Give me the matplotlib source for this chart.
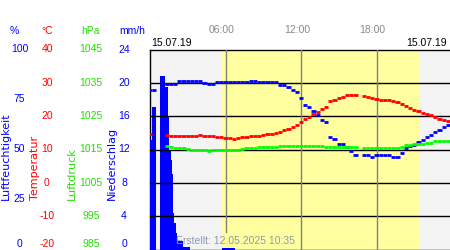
# weather chart: humidity, temperature, pressure and rain for one day
import numpy as np
import matplotlib.pyplot as plt
from matplotlib import transforms

nan = np.nan

# 20-minute readings, 00:00 .. 23:40
hours = np.arange(72) / 3

humidity = [79.8, 79.8, nan, 82.7, 82.7, 82.7, 82.7, 84.5, 84.5, 84.5, 84.5, 84.5,
            84.5, 83.5, 82.7, 82.7, 83.7, 83.7, 83.7, 83.7, 83.7, 83.7, 83.7, 83.7,
            84.5, 84.2, 83.7, 83.7, 83.7, 83.7, 83.7, 82.5, 82.5, 81.2, 80.0, 78.7,
            75.7, 72.5, 71.2, 69.2, 67.5, 65.0, 63.7, 56.5, 55.2, 52.7, 52.7, 51.2,
            49.5, 47.5, nan, 47.5, 47.5, 46.2, 47.5, 47.5, 47.5, 47.5, 46.2, 46.2,
            48.5, 50.7, 52.0, 52.5, 53.7, 55.0, 56.2, 57.5, 58.7, 60.0, 61.2, 62.5]

temperature = [14.6, nan, nan, nan, 14.3, 14.1, 14.1, 14.1, 14.1, 14.1, 14.1, 14.1,
               14.4, 14.1, 14.0, 14.0, 13.7, 13.7, 13.5, 13.4, 13.3, 13.6, 13.7, 13.7,
               14.0, 14.1, 14.2, 14.3, 14.6, 14.7, 15.0, 15.3, 15.8, 16.2, 16.8, 17.4,
               18.2, 19.1, 19.7, 20.6, 21.3, 22.2, 22.9, 24.7, 25.0, 25.6, 25.9, 26.4,
               26.4, 26.4, nan, 26.1, 25.9, 25.6, 25.3, 25.0, 25.0, 24.9, 24.6, 24.3,
               23.8, 23.2, 22.6, 22.0, 21.6, 21.0, 20.6, 20.3, 19.7, 19.2, 18.8, 18.6]

pressure = [nan, nan, nan, nan, 1016.0, 1015.7, 1015.4, 1015.4, 1015.4, 1015.1, 1014.8, 1014.8,
            1014.8, 1014.8, 1014.5, 1014.8, 1014.8, 1014.8, 1014.8, 1014.8, 1014.8, 1014.8, 1015.1, 1015.4,
            1015.4, 1015.4, 1015.9, 1015.9, 1015.9, 1015.9, 1015.9, 1016.2, 1016.2, 1016.2, 1016.2, 1016.2,
            1016.2, 1016.2, 1016.2, 1016.2, 1016.2, 1016.2, 1015.9, 1015.9, 1015.9, 1015.9, 1015.9, 1015.9,
            1015.9, 1015.9, nan, 1015.6, 1015.6, 1015.6, 1015.6, 1015.6, 1015.6, 1015.6, 1015.6, 1015.6,
            1015.9, 1016.4, 1016.4, 1016.8, 1016.8, 1016.8, 1017.1, 1017.1, 1017.6, 1017.6, 1017.7, 1017.7]

# rain in 5-minute bins (start minute, mm/h)
rain_min = [0, 5, 10, 15, 20, 25, 50, 55, 60, 65, 70, 75, 80, 85, 90, 95, 100, 105, 110,
            115, 120, 125, 130, 135, 140, 145, 150, 155, 160, 165, 170, 175, 180, 185,
            345, 350, 355, 360, 365, 370, 375, 380, 385, 390, 395, 400]
rain = [13.1, 13.1, 17.1, 17.1, 17.1, 17.1, 20.8, 20.8, 20.8, 20.8, 19.5, 19.5, 19.5,
        15.9, 11.9, 11.9, 10.7, 9.1, 4.4, 3.2, 3.2, 2.0, 1.0, 1.0, 1.0, 1.0, 1.0,
        0.3, 0.3, 0.3, 0.3, 0.3, 0.3, 0.3,
        0.2, 0.2, 0.2, 0.2, 0.2, 0.2, 0.2, 0.2, 0.2, 0.2, 0.2, 0.2]

sunrise, sunset = 5.64, 21.36
hum_ticks = [0, 25, 50, 75, 100]
temp_ticks = [-20, -10, 0, 10, 20, 30, 40]
pres_ticks = [985, 995, 1005, 1015, 1025, 1035, 1045]
rain_ticks = [0, 4, 8, 12, 16, 20, 24]

BLUE = '#0000ff'
RED = '#ff0000'
GREEN = '#00ff00'
GREEN_TXT = '#22e000'
GRAY = '#8a8a8a'

plt.rcParams['font.family'] = ['Liberation Sans', 'DejaVu Sans']
plt.rcParams['font.size'] = 7.5

fig = plt.figure(figsize=(4.5, 2.5), dpi=100)
W, H = 450, 250
ax = fig.add_axes([150 / W, 0.5 / H, 302 / W, 200 / H])
ax.set_xlim(0, 24)
ax.set_ylim(-20, 40)
ax.axvspan(0, sunrise, color='#f3f3f3', lw=0, zorder=0)
ax.axvspan(sunrise, sunset, color='#ffffa0', lw=0, zorder=0)
ax.axvspan(sunset, 24, color='#f3f3f3', lw=0, zorder=0)
for s in ['left', 'top', 'bottom']:
    ax.spines[s].set_linewidth(1)
ax.spines['right'].set_visible(False)
ax.set_xticks([])
ax.set_yticks([])

ax_r = ax.twinx()
ax_h = ax.twinx()
ax_p = ax.twinx()
ax_t = ax.twinx()
for a, lim in [(ax_r, (0, 24)), (ax_h, (0, 100)), (ax_p, (985, 1045)), (ax_t, (-20, 40))]:
    a.set_ylim(*lim)
    a.set_xlim(0, 24)
    a.set_yticks([])
    a.set_xticks([])
    for s in a.spines.values():
        s.set_visible(False)

# rain bars, then grid on top of them
ax_r.bar(np.array(rain_min) / 60, rain, width=5 / 60, align='edge', color=BLUE, lw=0, zorder=1)
for v in rain_ticks[1:-1]:
    ax_r.axhline(v, color='black', lw=1, zorder=2)
ax_r.axvline(6, ymin=0.0875, color='#808080', lw=1, zorder=2)
ax_r.axvline(12, color='#808080', lw=1, zorder=2)
ax_r.axvline(18, color='#808080', lw=1, zorder=2)

dt = 1 / 6
ax_h.hlines(humidity, hours - dt, hours + dt, color=BLUE, lw=2.0)
ax_p.hlines(pressure, hours - dt, hours + dt, color=GREEN, lw=2.0)
ax_t.hlines(temperature, hours - dt, hours + dt, color=RED, lw=2.0)

# scale columns on the left
def scale_column(a, ticks, x, color):
    tr = transforms.blended_transform_factory(fig.transFigure, a.transData)
    for v in ticks:
        t = tr
        if v == ticks[0]:
            t = tr + transforms.ScaledTranslation(0, 5.5 / 100, fig.dpi_scale_trans)
        fig.text(x / W, v, str(v), transform=t, color=color, ha='center', va='center')

scale_column(ax_h, hum_ticks, 19.5, BLUE)
scale_column(ax_t, temp_ticks, 47, RED)
scale_column(ax_p, pres_ticks, 91, GREEN_TXT)
scale_column(ax_r, rain_ticks, 124, BLUE)

ytop = 1 - 31 / H
fig.text(14 / W, ytop, '%', color=BLUE, ha='center', va='center')
fig.text(47 / W, ytop, '°C', color=RED, ha='center', va='center')
fig.text(90 / W, ytop, 'hPa', color=GREEN_TXT, ha='center', va='center')
fig.text(132.5 / W, ytop, 'mm/h', color=BLUE, ha='center', va='center')

ybot = 1 - 200 / H
for x, txt, c in [(6, 'Luftfeuchtigkeit', BLUE), (35, 'Temperatur', RED),
                  (72, 'Luftdruck', GREEN_TXT), (111.5, 'Niederschlag', BLUE)]:
    fig.text(x / W, ybot, txt, color=c, rotation=90, ha='center', va='bottom',
             fontsize=8, family='DejaVu Sans')

fig.text(151 / W, 1 - 43 / H, '15.07.19', color='black', ha='left', va='center')
fig.text(447 / W, 1 - 43 / H, '15.07.19', color='black', ha='right', va='center')

ttr = transforms.blended_transform_factory(ax.transData, fig.transFigure)
for h, lab in [(6, '06:00'), (12, '12:00'), (18, '18:00')]:
    fig.text(h - 0.32, 1 - 30 / H, lab, transform=ttr, color=GRAY, ha='center', va='center')

fig.text(176 / W, 1 - 240.5 / H, 'Erstellt: 12.05.2025 10:35', color='#8c9ab0',
         ha='left', va='center')

fig.savefig('out.png', dpi=100)
